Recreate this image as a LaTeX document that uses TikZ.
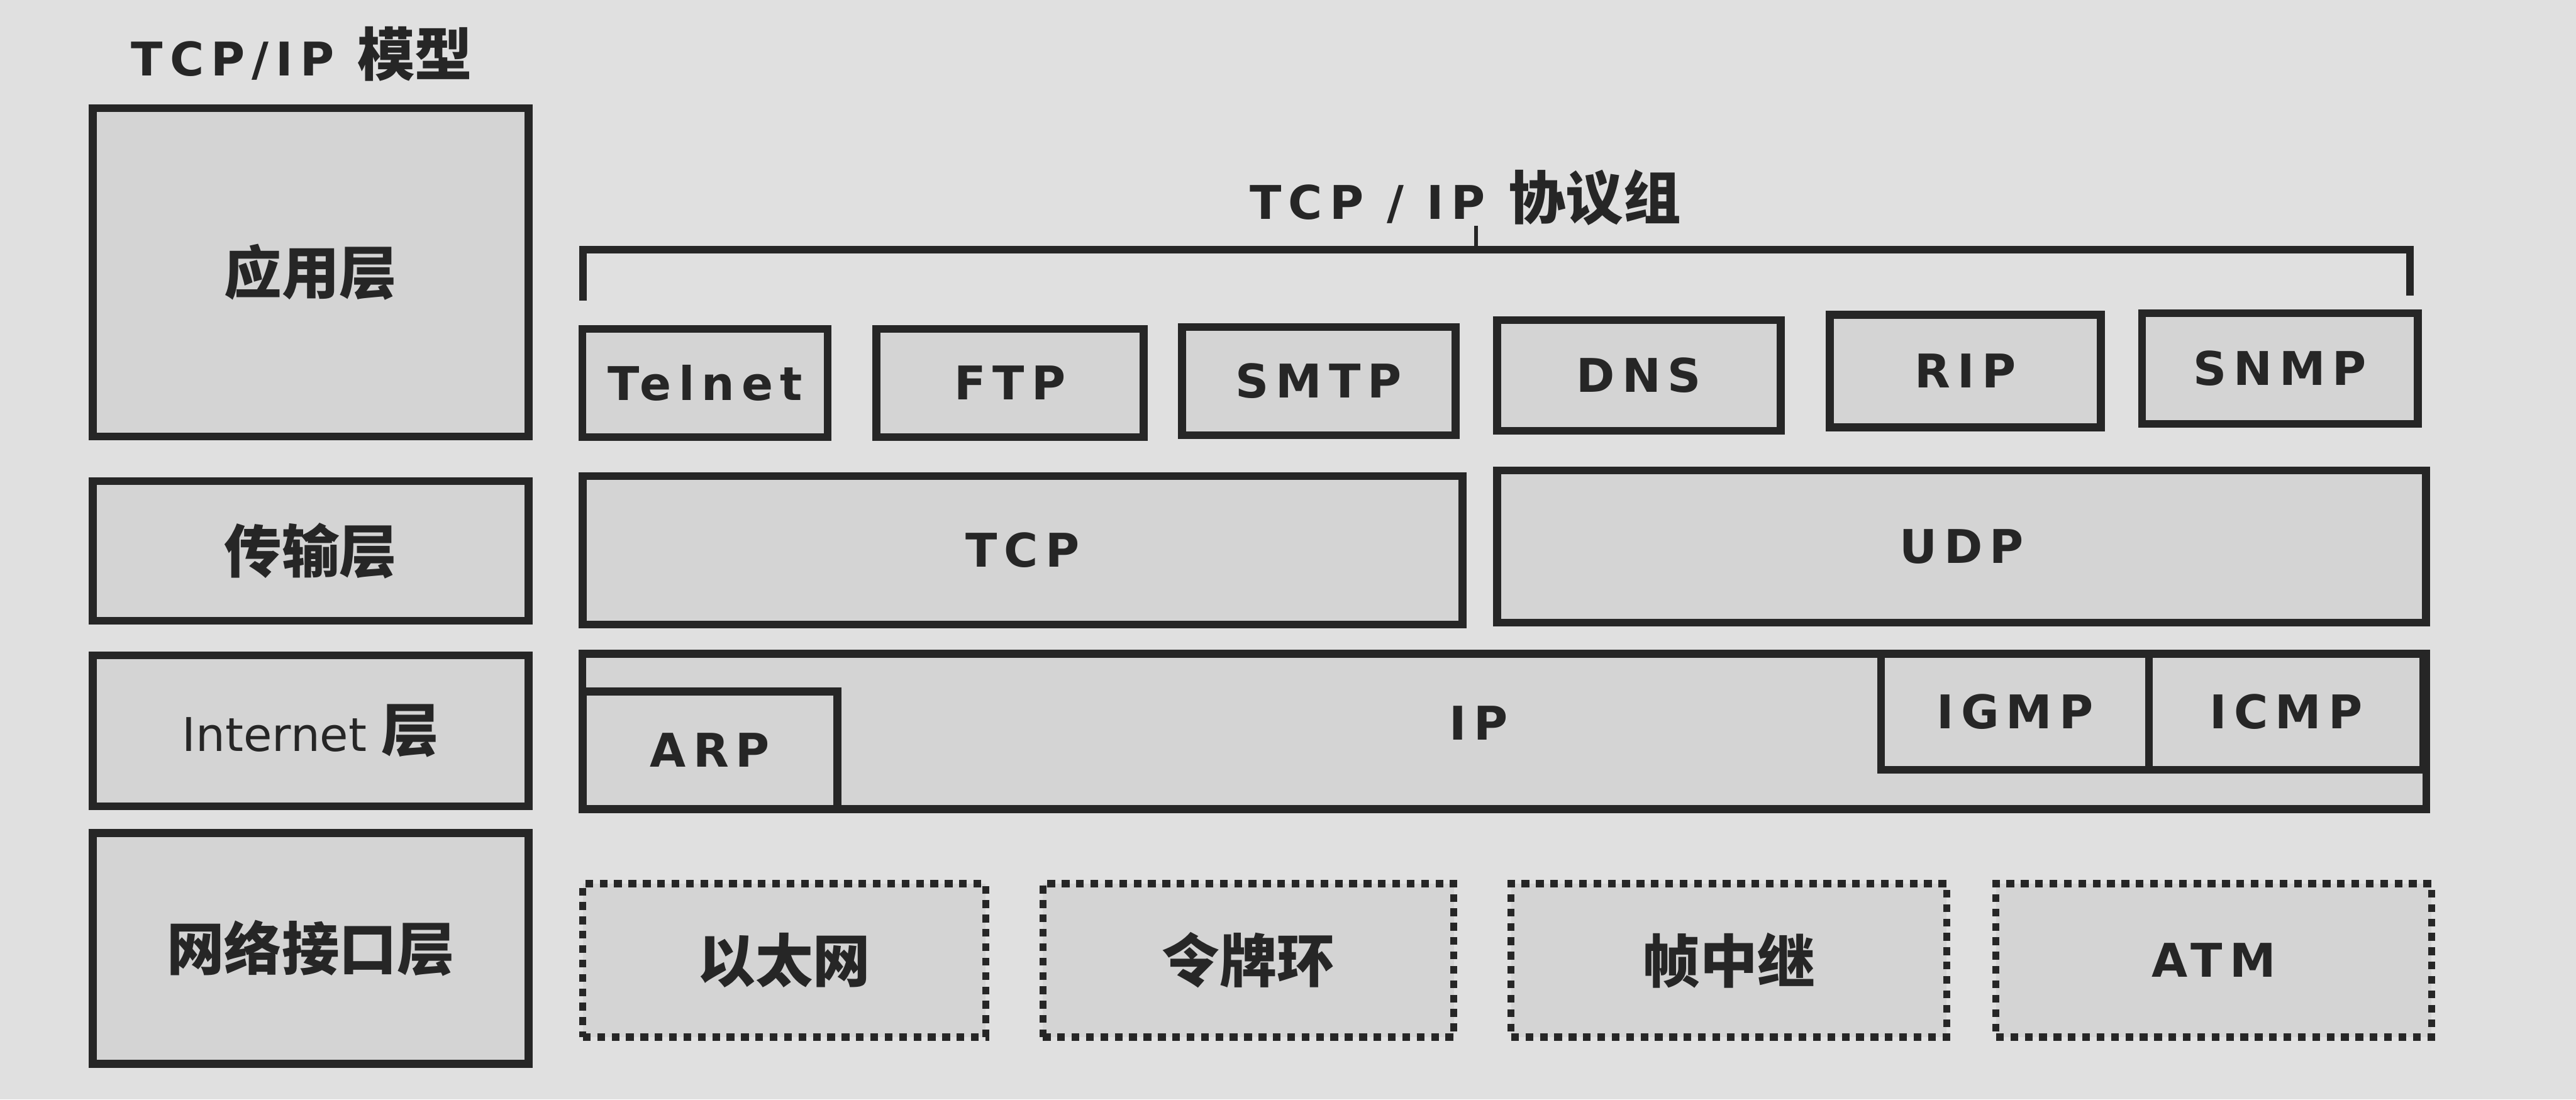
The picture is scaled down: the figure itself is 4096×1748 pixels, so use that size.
\documentclass[tikz,border=0pt]{standalone}
\usepackage{fontspec}
\newfontfamily\lat[LetterSpace=15]{DejaVu Sans}
\newfontfamily\latplain{DejaVu Sans}
\newfontfamily\cjk{Noto Sans CJK SC}
\usetikzlibrary{positioning}
\definecolor{paper}{gray}{0.88}
\definecolor{boxfill}{gray}{0.83}
\definecolor{ink}{gray}{0.15}

\begin{document}
\begin{tikzpicture}[
        x=0.01cm, y=-0.01cm,
        every node/.style={inner sep=0pt, text=ink},
        box/.style={draw=ink, line width=3.6pt, fill=boxfill,
                    font=\lat\bfseries\fontsize{21}{25}\selectfont},
        dashbox/.style={box, line width=3.2pt, dash pattern=on 3.5pt off 3pt},
        zh/.style={font=\cjk\bfseries\fontsize{26}{30}\selectfont}
]

%--- page ------------------------------------------------------
\fill[paper] (0,0) rectangle (4096,1748);
\useasboundingbox (0,0) rectangle (4096,1748);

%--- model layers (left column) -------------------------------
\node[font=\lat\bfseries\fontsize{21}{25}\selectfont] (model) at (480,86)
     {TCP/IP {\cjk\bfseries\fontsize{26}{30}\selectfont 模型}};
\node[box, zh, minimum width=6.92cm, minimum height=5.22cm] (app)   at (494,433)  {应用层};
\node[box, zh, minimum width=6.92cm, minimum height=2.22cm] (trans) at (494,876)  {传输层};
\node[box, minimum width=6.92cm, minimum height=2.40cm, font=\latplain\fontsize{21}{25}\selectfont]
     (inet) at (494,1162) {Internet {\cjk\bfseries\fontsize{26}{30}\selectfont 层}};
\node[box, zh, minimum width=6.92cm, minimum height=3.67cm] (netif) at (494,1508) {网络接口层};

%--- protocol suite bracket -------------------------------------
\node[font=\lat\bfseries\fontsize{21}{25}\selectfont] (suite) at (2330,314)
     {TCP / IP {\cjk\bfseries\fontsize{26}{30}\selectfont 协议组}};
\coordinate (brL)   at (927,478);
\coordinate (brR)   at (3832,470);
\coordinate (brMid) at (2347,397);
\draw[ink, line width=3.6pt] (brL) -- (brL |- brMid) -- (brR |- brMid) -- (brR);
\draw[ink, line width=1.5pt] (brMid) -- (brMid |- suite.south);

%--- application protocols --------------------------------------
\node[box, minimum width=3.90cm, minimum height=1.72cm] (telnet) at (1121,609) {Telnet};
\node[box, minimum width=4.25cm, minimum height=1.72cm] (ftp)    at (1606,609) {FTP};
\node[box, minimum width=4.35cm, minimum height=1.72cm] (smtp)   at (2097,606) {SMTP};
\node[box, minimum width=4.51cm, minimum height=1.76cm] (dns)    at (2606,597) {DNS};
\node[box, minimum width=4.31cm, minimum height=1.79cm] (rip)    at (3125,590) {RIP};
\node[box, minimum width=4.38cm, minimum height=1.76cm] (snmp)   at (3625,586) {SNMP};

%--- transport --------------------------------------------------
\node[box, minimum width=13.98cm, minimum height=2.36cm] (tcp) at (1626,875) {TCP};
\node[box, minimum width=14.76cm, minimum height=2.42cm] (udp) at (3119,869) {UDP};

%--- internet ---------------------------------------------------
\node[box, minimum width=29.30cm, minimum height=2.47cm] (ip) at (2392,1163) {};
\node[font=\lat\bfseries\fontsize{21}{25}\selectfont] (iplbl) at (2351,1150) {IP};
\node[box, minimum width=4.05cm, minimum height=1.87cm] (arp)  at (1129,1193) {ARP};
\node[box, minimum width=4.26cm, minimum height=1.84cm] (igmp) at (3204,1132) {IGMP};
\node[box, minimum width=4.36cm, minimum height=1.84cm] (icmp) at (3635,1132) {ICMP};

%--- network interfaces -----------------------------------------
\node[dashbox, zh, minimum width=6.40cm, minimum height=2.44cm] (eth)  at (1247,1527) {以太网};
\node[dashbox, zh, minimum width=6.53cm, minimum height=2.44cm] (ring) at (1985,1527) {令牌环};
\node[dashbox, zh, minimum width=6.92cm, minimum height=2.44cm] (fr)   at (2749,1527) {帧中继};
\node[dashbox, minimum width=6.92cm, minimum height=2.44cm] (atm)  at (3520,1527) {ATM};

\end{tikzpicture}
\end{document}
